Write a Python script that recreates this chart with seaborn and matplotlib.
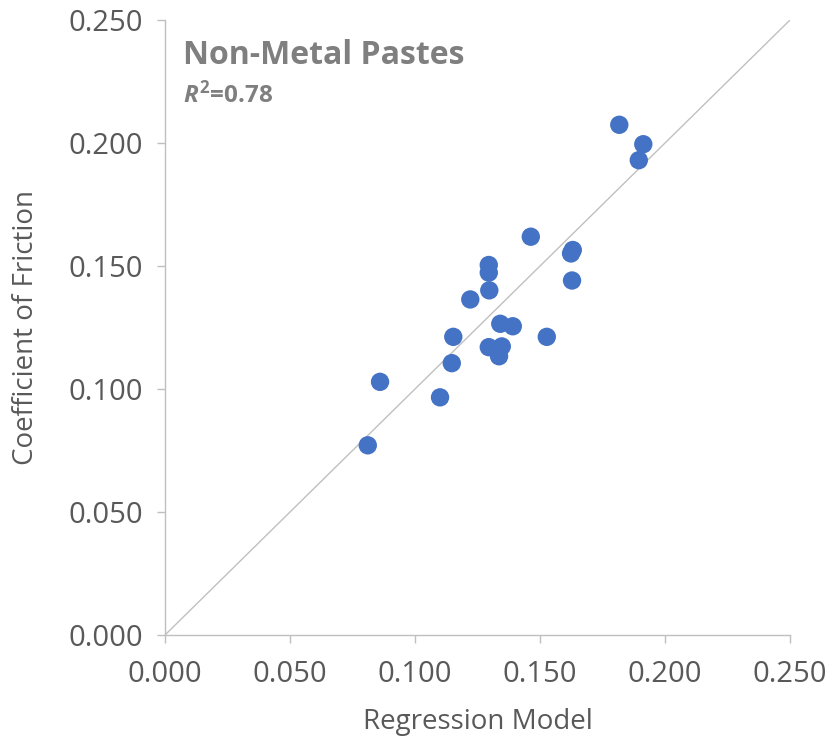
import matplotlib
matplotlib.use("Agg")
import matplotlib.pyplot as plt
import seaborn as sns
import pandas as pd

model = [0.1463, 0.1631, 0.1624, 0.1628, 0.1295, 0.1295, 0.1297, 0.1221, 0.1341,
         0.1391, 0.1527, 0.1153, 0.1295, 0.1347, 0.1336, 0.1147, 0.0860, 0.1100,
         0.0811, 0.1817, 0.1913, 0.1895]
friction = [0.1619, 0.1565, 0.1551, 0.1441, 0.1504, 0.1473, 0.1401, 0.1364, 0.1265,
            0.1255, 0.1212, 0.1212, 0.1170, 0.1173, 0.1133, 0.1105, 0.1029, 0.0966,
            0.0771, 0.2074, 0.1995, 0.1930]
ticks = [0.0, 0.05, 0.10, 0.15, 0.20, 0.25]
tick_labels = ["0.000", "0.050", "0.100", "0.150", "0.200", "0.250"]

sns.set_theme(style="white")
plt.rcParams['font.family'] = ['Open Sans', 'DejaVu Sans']
plt.rcParams['mathtext.fontset'] = 'custom'
plt.rcParams['mathtext.it'] = 'Open Sans:italic:bold'
plt.rcParams['mathtext.rm'] = 'Open Sans:bold'

df = pd.DataFrame({"Regression Model": model, "Coefficient of Friction": friction})

fig = plt.figure(figsize=(8.31, 7.38), dpi=100)
ax = fig.add_axes([0.1986, 0.1396, 0.7521, 0.8333])

ax.plot([0, 0.25], [0, 0.25], color="#c0c0c0", lw=1.0, zorder=1)
sns.scatterplot(data=df, x="Regression Model", y="Coefficient of Friction", ax=ax,
                color="#4472c4", s=175, edgecolor="none", zorder=3)

ax.set_xlim(0, 0.25)
ax.set_ylim(0, 0.25)
ax.set_xticks(ticks)
ax.set_xticklabels(tick_labels)
ax.set_yticks(ticks)
ax.set_yticklabels(tick_labels)

gray = "#595959"
for s in ["top", "right"]:
    ax.spines[s].set_visible(False)
for s in ["left", "bottom"]:
    ax.spines[s].set_color("#bfbfbf")
    ax.spines[s].set_linewidth(1.0)
ax.tick_params(axis="both", which="major", direction="out", length=6, width=1,
               color="#bfbfbf", labelcolor=gray, labelsize=21, bottom=True, left=True)
ax.tick_params(axis="x", pad=12)
ax.tick_params(axis="y", pad=10)

ax.set_xlabel("Regression Model", fontsize=20, color=gray, labelpad=14)
ax.set_ylabel("Coefficient of Friction", fontsize=20, color=gray, labelpad=20)

ax.text(0.028, 0.943, "Non-Metal Pastes", transform=ax.transAxes, fontsize=23,
        fontweight="bold", color="#7f7f7f", va="center", ha="left")
ax.text(0.028, 0.878, "$R^{2}$=0.78", transform=ax.transAxes, fontsize=17.5,
        color="#7f7f7f", va="center", ha="left", fontweight="bold")

fig.savefig("out.png", dpi=100)
